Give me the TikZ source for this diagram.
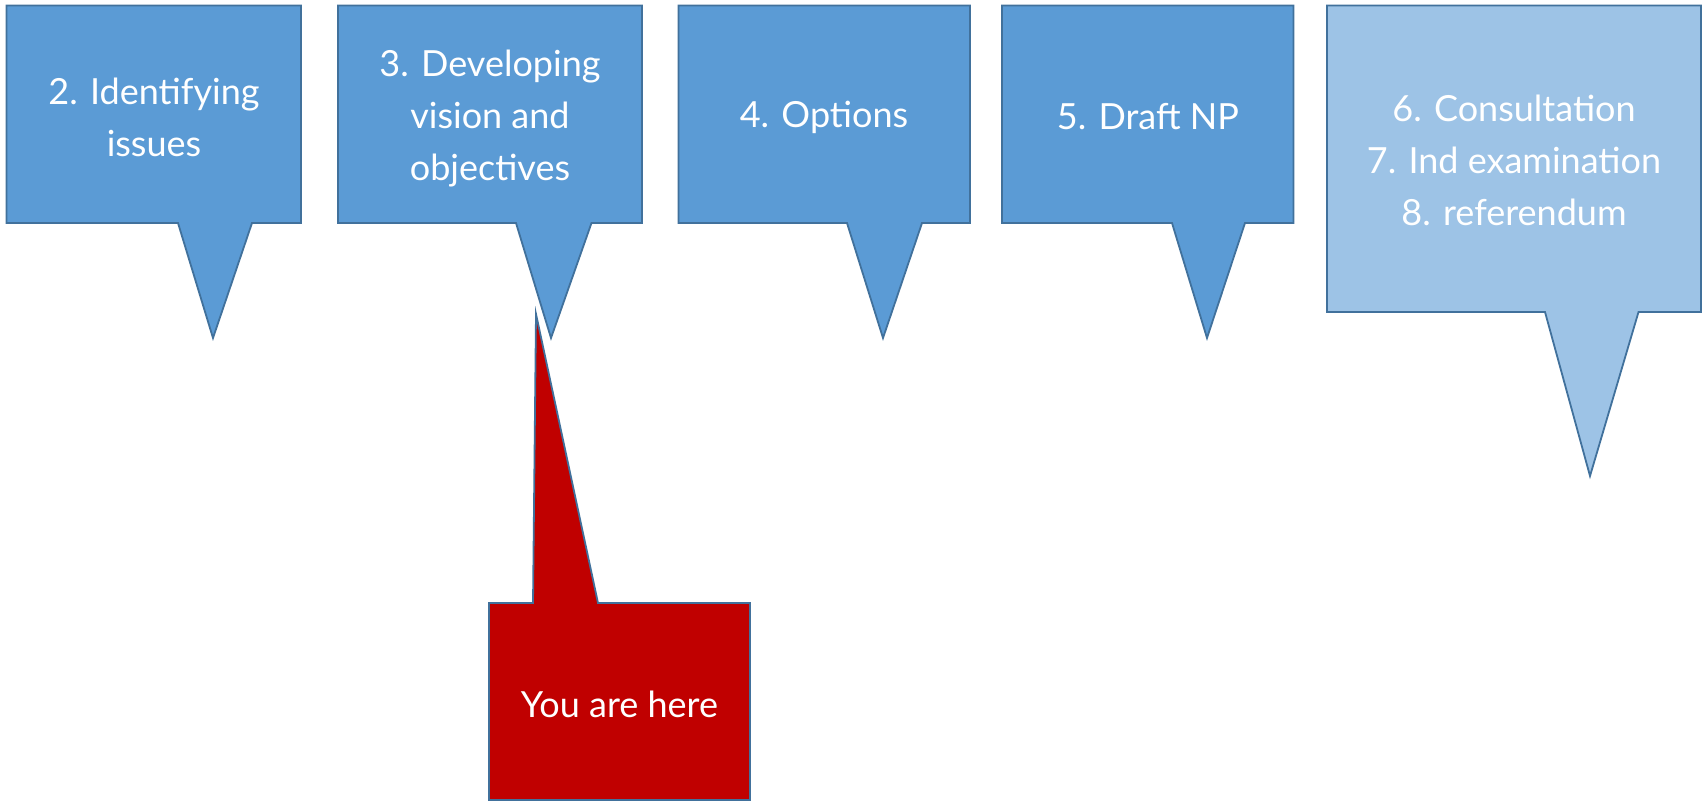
\documentclass[tikz,border=0pt]{standalone}
\usepackage{fontspec}
\setmainfont{Lato}
\definecolor{calblue}{HTML}{5B9BD5}
\definecolor{callight}{HTML}{9DC3E6}
\definecolor{calborder}{HTML}{41719C}
\definecolor{calred}{HTML}{C00000}
\begin{document}
\begin{tikzpicture}[x=1pt,y=-1pt,
  callout/.style={fill=calblue,draw=calborder,line width=1.8pt,line join=miter},
  lbl/.style={text=white,align=center,inner sep=0pt,font=\fontsize{36}{52}\selectfont}]
\useasboundingbox (0,0) rectangle (1705,802);
% box 2
\draw[callout] (6.5,5.5) -- (301,5.5) -- (301,223) -- (252,223) -- (213,338) -- (178,223) -- (6.5,223) -- cycle;
\node[lbl] (t2) at (154,117) {2. Identifying\\issues};
% box 3
\draw[callout] (338,5.5) -- (642,5.5) -- (642,223) -- (591.5,223) -- (551,338) -- (516,223) -- (338,223) -- cycle;
\node[lbl] (t3) at (490,119) {3. Developing\\vision and\\objectives};
% box 4
\draw[callout] (678.5,5.5) -- (970,5.5) -- (970,223) -- (922,223) -- (883,338) -- (847,223) -- (678.5,223) -- cycle;
\node[lbl] (t4) at (824,117) {4. Options};
% box 5
\draw[callout] (1002,5.5) -- (1293.5,5.5) -- (1293.5,223) -- (1245,223) -- (1207,338) -- (1172,223) -- (1002,223) -- cycle;
\node[lbl] (t5) at (1148,117) {5. Draft NP};
% box 6-8
\draw[callout,fill=callight] (1327,5.5) -- (1701,5.5) -- (1701,312) -- (1638.5,312) -- (1590,476) -- (1545,312) -- (1327,312) -- cycle;
\node[lbl] (t6) at (1514,160) {6. Consultation\\7. Ind examination\\8. referendum};
% you are here
\draw[callout,fill=calred] (489,603) -- (533,603) -- (536,314) -- (598,603) -- (750,603) -- (750,800) -- (489,800) -- cycle;
\node[lbl] (you) at (619.5,704) {You are here};
\end{tikzpicture}
\end{document}
